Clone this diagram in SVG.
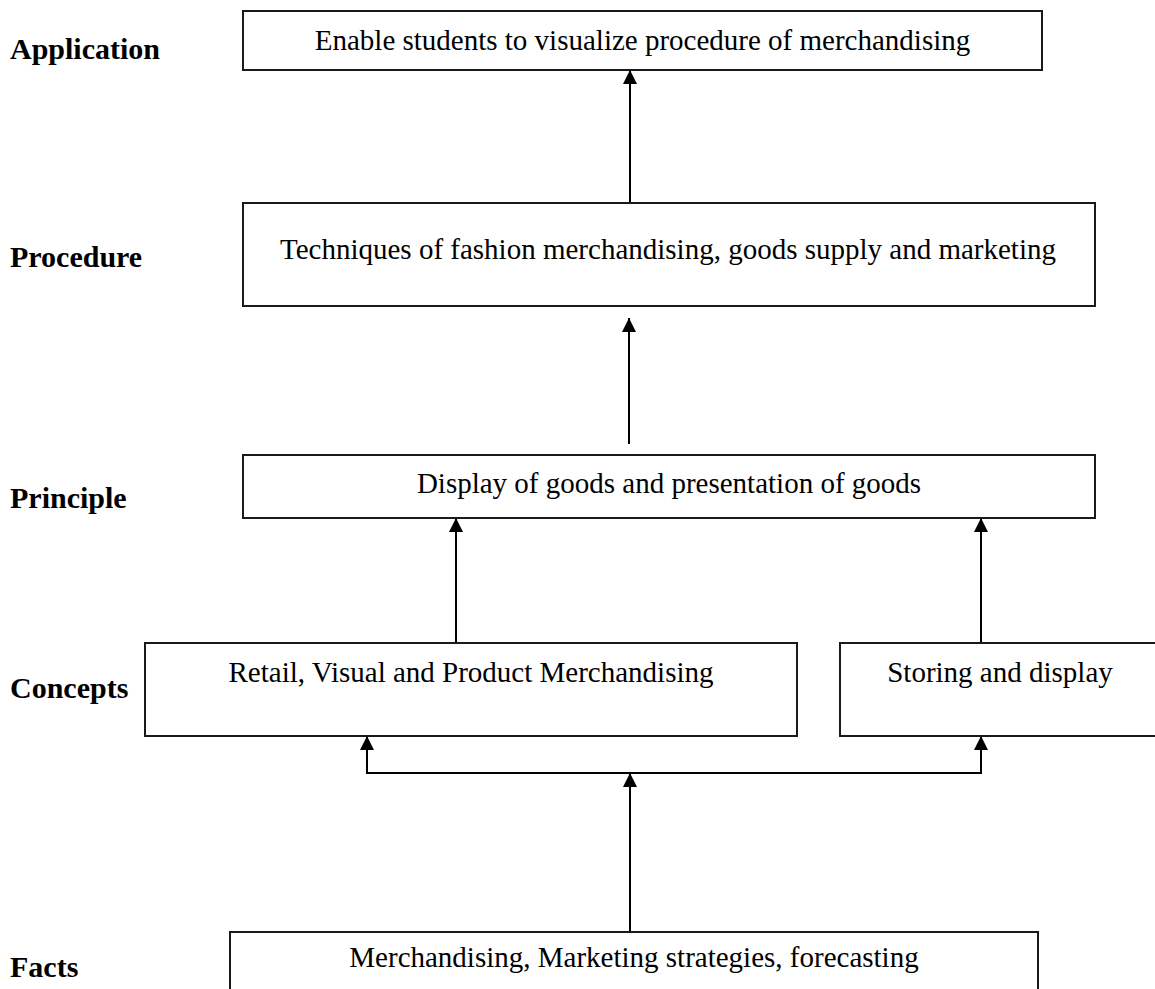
<svg xmlns="http://www.w3.org/2000/svg" width="1155" height="989" viewBox="0 0 1155 989">
<style>
.box{fill:#fff;stroke:#1a1a1a;stroke-width:2}
.t{font-family:"Liberation Serif","Times New Roman",serif;font-size:29px;fill:#000;text-anchor:middle}
.lbl{font-family:"Liberation Serif","Times New Roman",serif;font-size:30px;font-weight:bold;fill:#000}
.c{stroke:#000;stroke-width:2;fill:none}
</style>
<defs>
<marker id="ah" viewBox="0 0 14 14" refX="14" refY="7" markerWidth="14" markerHeight="14" markerUnits="userSpaceOnUse" orient="auto">
<path d="M0,0 L14,7 L0,14 z" fill="#000"/>
</marker>
</defs>
<rect width="1155" height="989" fill="#fff"/>
<g id="labels">
<text class="lbl" x="10" y="59">Application</text>
<text class="lbl" x="10" y="267">Procedure</text>
<text class="lbl" x="10" y="508">Principle</text>
<text class="lbl" x="10" y="698">Concepts</text>
<text class="lbl" x="10" y="977">Facts</text>
</g>
<g id="connectors">
<line class="c" x1="630" y1="203" x2="630" y2="70" marker-end="url(#ah)"/>
<line class="c" x1="629" y1="444" x2="629" y2="318" marker-end="url(#ah)"/>
<line class="c" x1="456" y1="643" x2="456" y2="518" marker-end="url(#ah)"/>
<line class="c" x1="981" y1="643" x2="981" y2="518" marker-end="url(#ah)"/>
<line class="c" x1="367" y1="774" x2="367" y2="736" marker-end="url(#ah)"/>
<line class="c" x1="981" y1="774" x2="981" y2="736" marker-end="url(#ah)"/>
<line class="c" x1="366" y1="773" x2="982" y2="773"/>
<line class="c" x1="630" y1="932" x2="630" y2="773" marker-end="url(#ah)"/>
</g>
<g id="application">
<rect class="box" x="243" y="11" width="799" height="59"/>
<text class="t" x="642.5" y="50">Enable students to visualize procedure of merchandising</text>
</g>
<g id="procedure">
<rect class="box" x="243" y="203" width="852" height="103"/>
<text class="t" x="668" y="259">Techniques of fashion merchandising, goods supply and marketing</text>
</g>
<g id="principle">
<rect class="box" x="243" y="455" width="852" height="63"/>
<text class="t" x="669" y="493">Display of goods and presentation of goods</text>
</g>
<g id="concept-retail">
<rect class="box" x="145" y="643" width="652" height="93"/>
<text class="t" x="471" y="682">Retail, Visual and Product Merchandising</text>
</g>
<g id="concept-storing">
<rect class="box" x="840" y="643" width="320" height="93"/>
<text class="t" x="1000" y="682">Storing and display</text>
</g>
<g id="facts">
<rect class="box" x="230" y="932" width="808" height="80"/>
<text class="t" x="634" y="967">Merchandising, Marketing strategies, forecasting</text>
</g>
</svg>
